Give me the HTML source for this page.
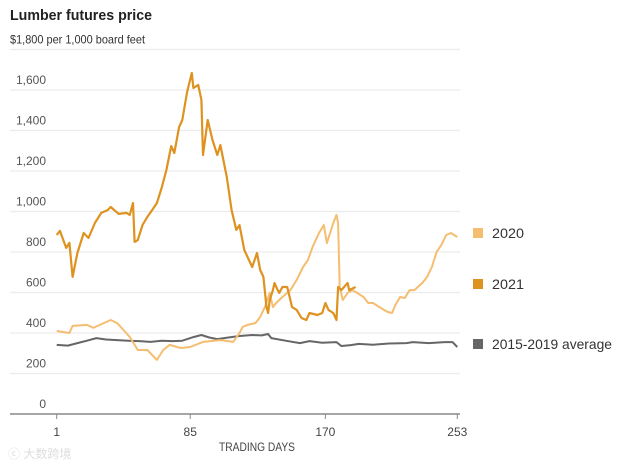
<!DOCTYPE html>
<html><head><meta charset="utf-8">
<style>
body{margin:0;background:#fff;width:632px;height:466px;overflow:hidden;font-family:"Liberation Sans","Noto Sans CJK SC",sans-serif;}
svg text{font-family:"Liberation Sans","Noto Sans CJK SC",sans-serif;}
</style></head>
<body>
<svg id="chart" width="632" height="466" viewBox="0 0 632 466" xmlns="http://www.w3.org/2000/svg">
<text x="10" y="20" font-size="15" font-weight="bold" fill="#222" textLength="142" lengthAdjust="spacingAndGlyphs">Lumber futures price</text>
<g id="grid"></g>
<g id="yticks"></g>
<g id="series"></g>
<g id="xaxis"></g>
<text x="257" y="451" font-size="12" fill="#444" text-anchor="middle" textLength="76" lengthAdjust="spacingAndGlyphs">TRADING DAYS</text>
<text x="8" y="458" font-size="12" fill="#ddd">ⓒ 大数跨境</text>
<g id="legend"></g>
</svg>
<script>
const yTicks=[0,200,400,600,800,1000,1200,1400,1600,1800];
const yTickLabels=["0","200","400","600","800","1,000","1,200","1,400","1,600","$1,800 per 1,000 board feet"];
const xTicks=[1,85,170,253];
const seriesNames=["2020","2021","2015-2019 average"];
const days2021=[1,3,7,9,11,14,18,21,25,29,33,35,40,45,47,49,50,52,55,58,61,64,67,70,73,75,78,80,83,86,87,90,92,93,96,99,102,104,108,111,114,116,119,124,127,129,131,133,134,135,137,138,140,141,143,146,148,149,152,155,158,160,165,168,170,172,175,177,178,180,184,185,189];
const vals2021=[884,904,820,845,677,795,894,869,943,993,1007,1022,988,993,983,1042,850,859,933,973,1007,1042,1116,1205,1323,1289,1417,1452,1590,1684,1610,1625,1551,1279,1452,1353,1279,1328,1170,1007,909,933,810,726,795,711,677,528,499,563,612,647,612,598,627,627,563,528,514,474,464,499,489,499,548,514,499,464,627,612,647,612,627];
const days2020=[1,9,11,20,24,35,39,43,47,52,58,64,68,72,79,85,93,104,112,116,118,121,126,129,132,135,137,139,143,148,152,156,159,162,166,169,171,173,175,177,178,179,181,184,187,190,194,197,200,204,209,212,214,217,220,223,226,231,234,237,240,243,246,249,253];
const vals2020=[410,400,435,440,425,464,449,415,380,316,316,267,316,341,326,331,356,365,356,400,430,440,449,479,528,598,528,548,578,612,662,726,760,825,894,933,844,894,943,983,943,627,563,598,612,598,578,548,548,528,504,499,538,578,573,612,612,647,677,726,800,835,884,894,874];
const daysAvg=[1,8,14,20,26,32,39,46,53,60,67,74,80,87,92,97,102,109,116,124,130,134,136,145,154,160,168,177,180,186,191,200,210,221,225,235,245,250,253];
const valsAvg=[341,338,350,362,375,368,365,362,360,356,362,360,362,380,390,378,370,378,385,390,388,395,375,362,350,360,352,355,336,340,346,342,348,350,355,350,355,355,331];
const colors=["#f5bd70","#de921f","#666666"];

const NS="http://www.w3.org/2000/svg";
const x0=56.7,x1=457.3,yb=414,ppu=0.2025;
function xs(d){return x0+(d-1)*(x1-x0)/252;}
function ys(v){return yb-v*ppu;}
function mk(tag,attrs,parent){const e=document.createElementNS(NS,tag);for(const k in attrs)e.setAttribute(k,attrs[k]);parent.appendChild(e);return e;}

const grid=document.getElementById('grid'),yt=document.getElementById('yticks');
yTicks.forEach((v,i)=>{
  if(v>0){const l=mk('line',{x1:10,x2:460,y1:ys(v),y2:ys(v),stroke:'#ececec','stroke-width':1.3},grid);
  
  }
  const last=i===yTicks.length-1;
  const t=mk('text',{x:last?10:46,y:ys(v)-6,'font-size':12,fill:last?'#333':'#555','text-anchor':last?'start':'end'},yt);
  t.textContent=yTickLabels[i];
  if(last){t.setAttribute('textLength','135');t.setAttribute('lengthAdjust','spacingAndGlyphs');}
  
  
});
const xa=document.getElementById('xaxis');
const ax=mk('line',{x1:10,x2:460,y1:yb,y2:yb,stroke:'#888','stroke-width':1.5},xa);


xTicks.forEach(d=>{
  const tk=mk('line',{x1:xs(d),x2:xs(d),y1:yb,y2:yb+5,stroke:'#888','stroke-width':1},xa);
  
  
  const t=mk('text',{x:xs(d),y:yb+22,'font-size':12,fill:'#444','text-anchor':'middle'},xa);
  t.textContent=d;
  
  
});
const sg=document.getElementById('series');
function line(days,vals,col,name,w){
  const p=mk('path',{d:days.map((d,i)=>(i?'L':'M')+xs(d).toFixed(1)+','+ys(vals[i]).toFixed(1)).join(''),fill:'none',stroke:col,'stroke-width':w,'stroke-linejoin':'round'},sg);
  
  
}
line(daysAvg,valsAvg,colors[2],'line-2015-2019-average',2);
line(days2020,vals2020,colors[0],'line-2020',2);
line(days2021,vals2021,colors[1],'line-2021',2.2);
const lg=document.getElementById('legend');
const legY=[233,284,344];
const legW=[32,32,120];
seriesNames.forEach((n,i)=>{
  const r=mk('rect',{x:473,y:legY[i]-5,width:10,height:10,fill:colors[i]},lg);
  
  
  const t=mk('text',{x:492,y:legY[i]+5,'font-size':14,fill:'#333',textLength:legW[i],lengthAdjust:'spacingAndGlyphs'},lg);
  t.textContent=n;
  
  
});
</script>
</body></html>
